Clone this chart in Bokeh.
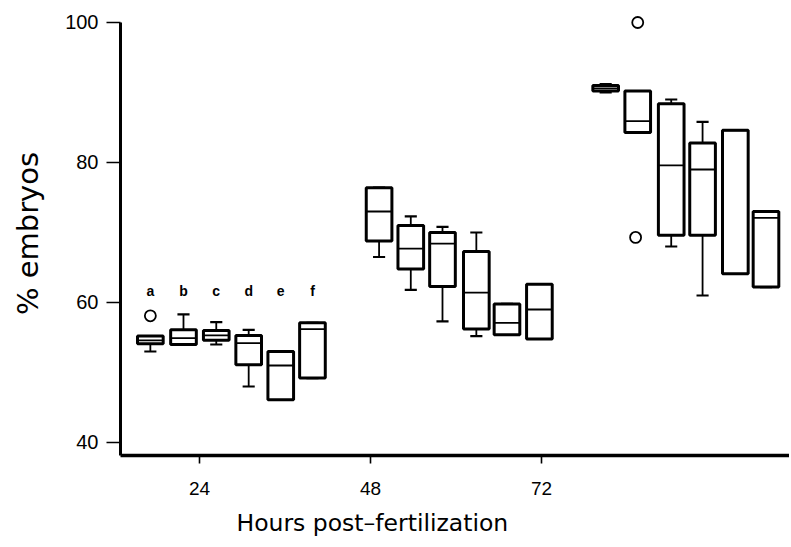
from bokeh.plotting import figure
from bokeh.models import ColumnDataSource, Range1d, FixedTicker, Title
from bokeh.core.properties import value
from bokeh.embed import file_html
from bokeh.resources import INLINE
import numpy as np

# ---- data ----
group_hours = [24, 48, 72]
box_letters = ["a", "b", "c", "d", "e", "f"]

# x position (hours) of each box
positions = [17.1, 21.75, 26.35, 30.9, 35.4, 39.85,
             49.2, 53.65, 58.1, 62.85, 67.15, 71.7,
             81.0, 85.5, 90.2, 94.6, 99.2, 103.5]
whisker_low = [53.0, 54.0, 54.0, 48.0, 46.1, 49.2,
               66.5, 61.8, 57.3, 55.2, 55.4, 54.8,
               90.0, 84.3, 68.0, 61.0, 64.1, 62.2]
q1 = [54.1, 54.0, 54.6, 51.1, 46.1, 49.2,
      68.8, 64.8, 62.3, 56.2, 55.4, 54.8,
      90.2, 84.3, 69.6, 69.6, 64.1, 62.2]
median = [54.6, 54.9, 55.3, 54.2, 51.0, 56.2,
          73.0, 67.7, 68.4, 61.4, 57.1, 59.0,
          90.6, 85.9, 79.6, 79.0, 84.6, 72.1]
q3 = [55.2, 56.1, 56.0, 55.3, 53.0, 57.1,
      76.4, 71.0, 70.0, 67.3, 59.8, 62.6,
      91.0, 90.2, 88.4, 82.8, 84.6, 73.0]
whisker_high = [55.2, 58.3, 57.2, 56.1, 53.0, 57.1,
                76.4, 72.3, 70.8, 70.0, 59.8, 62.6,
                91.2, 90.2, 89.0, 85.8, 84.6, 73.0]

outlier_x = [17.1, 85.5, 85.2]
outlier_y = [58.1, 100.0, 69.3]

letter_x = positions[:6]
letter_level = 61.6

x_ticks = [24, 48, 72]
y_ticks = [40, 60, 80, 100]
x_title = "Hours post\u2013fertilization"
y_title = "% embryos"

# ---- styles ----
BOX_W = 3.6
CAP_W = 1.7

p = figure(width=789, height=547, output_backend="svg", toolbar_location=None,
           x_range=Range1d(12.91, 106.8), y_range=Range1d(38.14, 101.57),
           min_border_left=120, min_border_right=0, min_border_top=11,
           min_border_bottom=92)
p.outline_line_color = None
p.xgrid.visible = False
p.ygrid.visible = False
p.background_fill_color = "white"

pos = np.array(positions)
src = ColumnDataSource(dict(
    x=pos, xl=pos - BOX_W / 2, xr=pos + BOX_W / 2,
    cl=pos - CAP_W / 2, cr=pos + CAP_W / 2,
    lo=np.array(whisker_low), q1=np.array(q1), med=np.array(median),
    q3=np.array(q3), hi=np.array(whisker_high)))

# whiskers
p.segment(x0="x", y0="q1", x1="x", y1="lo", source=src, line_color="black", line_width=1.8)
p.segment(x0="x", y0="q3", x1="x", y1="hi", source=src, line_color="black", line_width=1.8)
p.segment(x0="cl", y0="lo", x1="cr", y1="lo", source=src, line_color="black", line_width=2.2)
p.segment(x0="cl", y0="hi", x1="cr", y1="hi", source=src, line_color="black", line_width=2.2)
# boxes
p.vbar(x="x", width=BOX_W, bottom="q1", top="q3", source=src,
       fill_color="white", line_color="black", line_width=3)
# medians
p.segment(x0="xl", y0="med", x1="xr", y1="med", source=src, line_color="black", line_width=1.8)

# outliers
p.scatter(outlier_x, outlier_y, marker="circle", size=11, fill_color="white",
          line_color="black", line_width=1.8)

# letters
p.text(x=letter_x, y=[letter_level] * len(letter_x), text=box_letters,
       text_font=value("Liberation Sans"), text_font_style="bold",
       text_font_size="14px", text_align="center", text_baseline="middle",
       text_color="black")

# axes
p.xaxis.ticker = FixedTicker(ticks=x_ticks)
p.yaxis.ticker = FixedTicker(ticks=y_ticks)
p.yaxis.bounds = (38.14, 100)
for ax in (p.xaxis, p.yaxis):
    ax.axis_line_color = "black"
    ax.major_tick_line_color = "black"
    ax.major_tick_line_width = 1.6
    ax.minor_tick_line_color = None
    ax.major_tick_in = 0
    ax.major_label_text_font = "Liberation Sans"
    ax.major_label_text_color = "black"
    ax.axis_label_text_font = "DejaVu Sans"
    ax.axis_label_text_font_style = "normal"
    ax.axis_label_text_color = "black"

p.xaxis.axis_line_width = 3.5
p.yaxis.axis_line_width = 3
p.xaxis.major_tick_out = 8
p.yaxis.major_tick_out = 14
p.xaxis.major_label_text_font_size = "19px"
p.yaxis.major_label_text_font_size = "20px"
p.xaxis.major_label_standoff = 18
p.yaxis.major_label_standoff = 8
p.yaxis.axis_label = y_title
p.yaxis.axis_label_text_font_size = "29px"
p.yaxis.axis_label_standoff = 17

# x-axis title (sits under the 48 h tick, as in the cropped original)
p.add_layout(Title(text=x_title, align="left", offset=116, standoff=18,
                   text_font="DejaVu Sans", text_font_size="23.5px",
                   text_font_style="normal", text_color="black"), "below")

open("out.html", "w").write(file_html(p, INLINE))
